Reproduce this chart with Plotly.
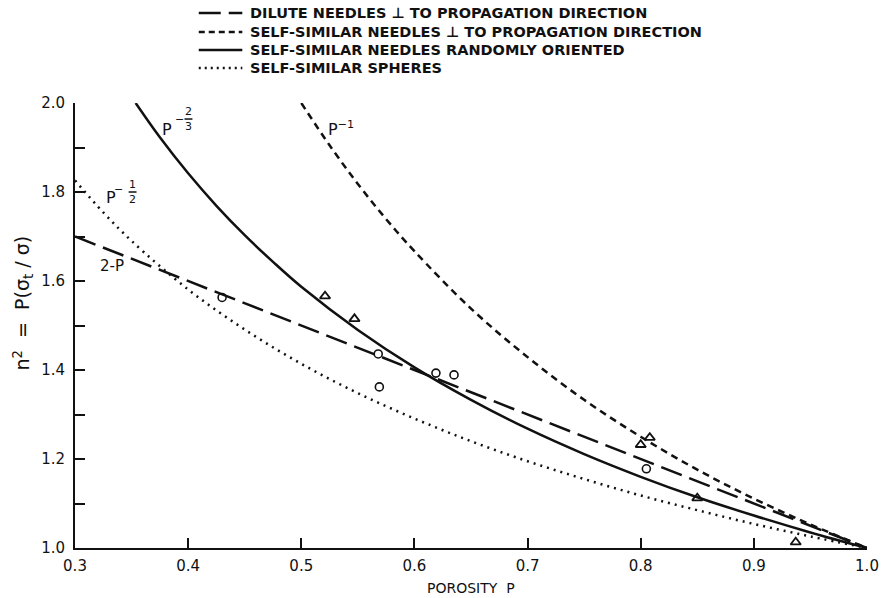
import plotly.graph_objects as go

# ---- data ----
porosity_dilute = [0.3, 1.0]
n2_dilute = [1.7, 1.0]

porosity_perp = [0.5, 0.525, 0.55, 0.575, 0.6, 0.65, 0.7, 0.75, 0.8, 0.85, 0.9, 0.95, 1.0]
n2_perp = [2.0, 1.905, 1.818, 1.739, 1.667, 1.538, 1.429, 1.333, 1.25, 1.176, 1.111, 1.053, 1.0]

porosity_random = [0.3536, 0.375, 0.4, 0.425, 0.45, 0.475, 0.5, 0.55, 0.6, 0.65, 0.7,
                   0.75, 0.8, 0.85, 0.9, 0.95, 1.0]
n2_random = [2.0, 1.923, 1.842, 1.769, 1.703, 1.643, 1.587, 1.490, 1.406, 1.333, 1.268,
             1.211, 1.160, 1.114, 1.073, 1.035, 1.0]

porosity_spheres = [0.3, 0.325, 0.35, 0.4, 0.45, 0.5, 0.55, 0.6, 0.65, 0.7, 0.75, 0.8,
                    0.85, 0.9, 0.95, 1.0]
n2_spheres = [1.826, 1.754, 1.690, 1.581, 1.491, 1.414, 1.348, 1.291, 1.240, 1.195, 1.155,
              1.118, 1.085, 1.054, 1.026, 1.0]

triangle_p = [0.521, 0.547, 0.800, 0.808, 0.850, 0.937]
triangle_n2 = [1.566, 1.515, 1.232, 1.248, 1.112, 1.013]
circle_p = [0.430, 0.568, 0.569, 0.619, 0.635, 0.805]
circle_n2 = [1.563, 1.436, 1.362, 1.393, 1.389, 1.178]

legend_names = [
    "DILUTE NEEDLES \u22a5 TO PROPAGATION DIRECTION",
    "SELF-SIMILAR NEEDLES \u22a5 TO PROPAGATION DIRECTION",
    "SELF-SIMILAR NEEDLES RANDOMLY ORIENTED",
    "SELF-SIMILAR SPHERES",
]
legend_dashes = ["22px,8px", "6px,4px", "solid", "2px,4px"]

x_ticks = [0.3, 0.4, 0.5, 0.6, 0.7, 0.8, 0.9, 1.0]
x_ticktext = ["0.3", "0.4", "0.5", "0.6", "0.7", "0.8", "0.9", "1.0"]
y_ticks = [1.0, 1.1, 1.2, 1.3, 1.4, 1.5, 1.6, 1.7, 1.8, 1.9, 2.0]
y_ticktext = ["1.0", "", "1.2", "", "1.4", "", "1.6", "", "1.8", "", "2.0"]

FONT = "DejaVu Sans"
BLACK = "#111111"
LW = 2.5
W, H = 891, 598
ML, MR, MT, MB = 75, 16, 103, 50
PW, PH = W - ML - MR, H - MT - MB


def px_to_paper(px, py):
    return (px - ML) / PW, (H - MB - py) / PH


fig = go.Figure()
fig.add_trace(go.Scatter(x=porosity_dilute, y=n2_dilute, mode="lines", name=legend_names[0],
                         line=dict(color=BLACK, width=LW, dash=legend_dashes[0])))
fig.add_trace(go.Scatter(x=porosity_perp, y=n2_perp, mode="lines", name=legend_names[1],
                         line=dict(color=BLACK, width=LW, dash="7px,5px", shape="spline")))
fig.add_trace(go.Scatter(x=porosity_random, y=n2_random, mode="lines", name=legend_names[2],
                         line=dict(color=BLACK, width=LW, shape="spline")))
fig.add_trace(go.Scatter(x=porosity_spheres, y=n2_spheres, mode="lines", name=legend_names[3],
                         line=dict(color=BLACK, width=LW, dash="2px,5px", shape="spline")))
fig.add_trace(go.Scatter(x=triangle_p, y=triangle_n2, mode="markers", name="triangles",
                         marker=dict(symbol="triangle-up-open", size=9, color=BLACK,
                                     line=dict(width=1.8, color=BLACK))))
fig.add_trace(go.Scatter(x=circle_p, y=circle_n2, mode="markers", name="circles",
                         marker=dict(symbol="circle-open", size=8, color=BLACK,
                                     line=dict(width=1.6, color=BLACK))))

ann = []
shapes = []


def label(x, y, text, size=15, xanchor="center"):
    ann.append(dict(x=x, y=y, xref="x", yref="y", text=text, showarrow=False,
                    xanchor=xanchor, yanchor="middle",
                    font=dict(family=FONT, size=size, color=BLACK)))


# P^-2/3
label(0.3814, 1.940, "P", size=16)
label(0.3925, 1.964, "\u2212", size=11)
label(0.4003, 1.980, "2", size=11)
label(0.4003, 1.948, "3", size=11)
shapes.append(dict(type="line", xref="x", yref="y", x0=0.3968, x1=0.4038, y0=1.964, y1=1.964,
                   line=dict(color=BLACK, width=1.5)))
# P^-1
label(0.5222, 1.942, "P<sup>\u22121</sup>", size=16, xanchor="left")
# P^-1/2
label(0.3315, 1.787, "P", size=16)
label(0.3386, 1.806, "\u2212", size=11)
label(0.3509, 1.817, "1", size=11)
label(0.3509, 1.784, "2", size=11)
shapes.append(dict(type="line", xref="x", yref="y", x0=0.3474, x1=0.3544, y0=1.800, y1=1.800,
                   line=dict(color=BLACK, width=1.5)))
# 2-P
label(0.3324, 1.634, "2-P", size=15)

# legend drawn by hand (line sample + text)
legend_rows_y = [13, 32, 50, 68]
for name, dash, ry in zip(legend_names, legend_dashes, legend_rows_y):
    x0, y0 = px_to_paper(200, ry)
    x1, _ = px_to_paper(244, ry)
    shapes.append(dict(type="line", xref="paper", yref="paper", x0=x0, x1=x1, y0=y0, y1=y0,
                       line=dict(color=BLACK, width=LW, dash=dash)))
    tx, ty = px_to_paper(250, ry)
    ann.append(dict(x=tx, y=ty, xref="paper", yref="paper", text="<b>" + name + "</b>",
                    showarrow=False, xanchor="left", yanchor="middle",
                    font=dict(family=FONT, size=14.5, color=BLACK)))

# axis titles
tx, ty = px_to_paper(22, 303)
ann.append(dict(x=tx, y=ty, xref="paper", yref="paper", textangle=-90, xanchor="center",
                yanchor="middle",
                text="n<sup>2</sup>  =  P(\u03c3<sub>t</sub> / \u03c3)", showarrow=False,
                font=dict(family=FONT, size=19, color=BLACK)))
tx, ty = px_to_paper(475, 588)
ann.append(dict(x=tx, y=ty, xref="paper", yref="paper", text="POROSITY  P",
                showarrow=False, xanchor="center", yanchor="middle",
                font=dict(family=FONT, size=14, color=BLACK)))

fig.update_layout(
    width=W, height=H,
    margin=dict(l=ML, r=MR, t=MT, b=MB),
    paper_bgcolor="white", plot_bgcolor="white",
    font=dict(family=FONT, color=BLACK),
    showlegend=False,
    annotations=ann, shapes=shapes,
    xaxis=dict(range=[0.3, 1.0], tickvals=x_ticks, ticktext=x_ticktext, ticks="inside",
               ticklen=10, tickwidth=2, tickcolor=BLACK, showline=True, linewidth=2,
               linecolor=BLACK, showgrid=False, zeroline=False, ticklabelstandoff=3,
               tickfont=dict(family=FONT, size=15, color=BLACK)),
    yaxis=dict(range=[1.0, 2.0], tickvals=y_ticks, ticktext=y_ticktext, ticks="inside",
               ticklen=10, tickwidth=2, tickcolor=BLACK, showline=True, linewidth=2,
               linecolor=BLACK, showgrid=False, zeroline=False, ticklabelstandoff=5,
               tickfont=dict(family=FONT, size=15, color=BLACK)),
)

fig.write_html("out.html", config={"displayModeBar": False},
               post_script="document.body.style.margin='0px';")
